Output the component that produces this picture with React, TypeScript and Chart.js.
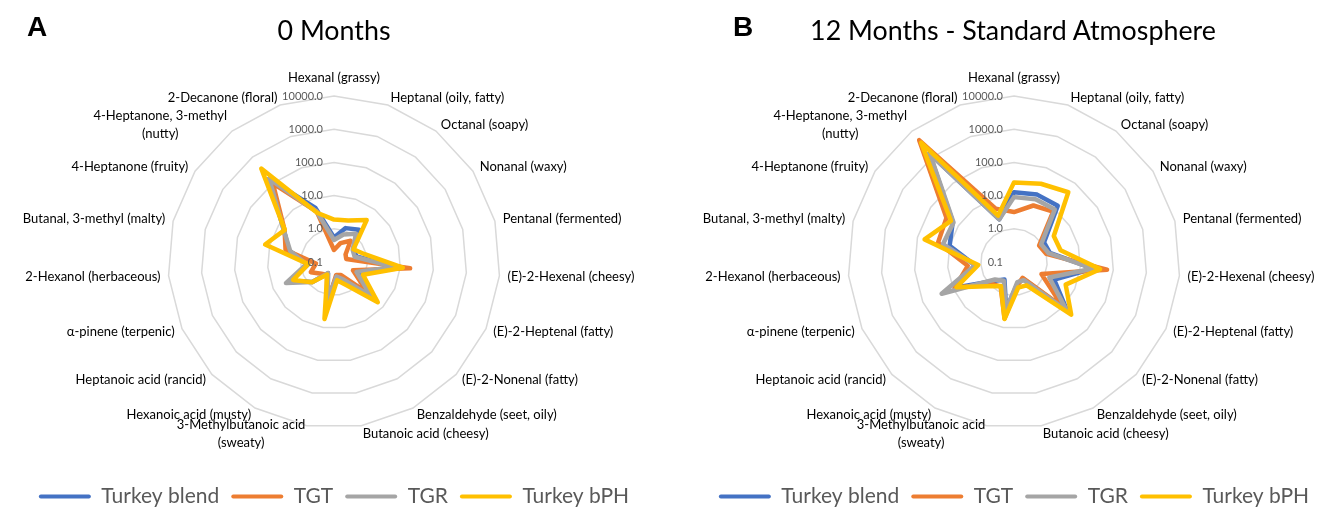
import React, { useEffect, useRef } from 'react';
import { Chart, registerables } from 'chart.js';

Chart.register(...registerables);

// ---------- data ----------
const categories: (string | string[])[] = [
  'Hexanal (grassy)',
  'Heptanal (oily, fatty)',
  'Octanal (soapy)',
  'Nonanal (waxy)',
  'Pentanal (fermented)',
  '(E)-2-Hexenal (cheesy)',
  '(E)-2-Heptenal (fatty)',
  '(E)-2-Nonenal (fatty)',
  'Benzaldehyde (seet, oily)',
  'Butanoic acid (cheesy)',
  ['3-Methylbutanoic acid', '(sweaty)'],
  'Hexanoic acid (musty)',
  'Heptanoic acid (rancid)',
  'α-pinene (terpenic)',
  '2-Hexanol (herbaceous)',
  'Butanal, 3-methyl (malty)',
  '4-Heptanone (fruity)',
  ['4-Heptanone, 3-methyl', '(nutty)'],
  '2-Decanone (floral)',
];

const seriesNames = ['Turkey blend', 'TGT', 'TGR', 'Turkey bPH'];
const seriesColors = ['#4472C4', '#ED7D31', '#A5A5A5', '#FFC000'];

const tickValues = [0.1, 1, 10, 100, 1000, 10000];
const tickLabels = ['0.1', '1.0', '10.0', '100.0', '1000.0', '10000.0'];

// 0 Months
const m0TurkeyBlend = [0.55, 1.2, 1.7, 0.5, 0.5, 7, 0.6, 3.0, 0.4, 0.28, 1.5, 0.24, 0.77, 2.6, 0.6, 2.5, 6.5, 150, 5.3];
const m0TGT = [0.23, 0.4, 0.65, 0.26, 0.24, 20, 0.42, 2.5, 0.28, 0.25, 2.0, 0.28, 0.33, 0.58, 0.35, 3.2, 6.0, 100, 4.0];
const m0TGR = [0.46, 0.75, 1.2, 0.47, 0.44, 7, 0.55, 3.2, 0.4, 0.28, 1.5, 0.24, 0.77, 3.8, 0.68, 2.3, 6.6, 150, 4.0];
const m0TurkeyBPH = [1.9, 2.1, 4.0, 0.5, 0.9, 12, 0.9, 6.2, 0.63, 0.36, 5.5, 0.27, 0.8, 2.2, 0.6, 13.8, 5.9, 370, 3.7];

// 12 Months - Standard Atmosphere
const m12TurkeyBlend = [12.6, 14, 14, 1.2, 1.3, 25, 2.1, 15, 0.38, 0.45, 2.8, 0.4, 0.7, 8, 1.5, 10, 16, 1400, 2.3];
const m12TGT = [3.2, 6.3, 8.3, 0.8, 1.0, 65, 0.8, 10, 0.35, 0.5, 5.3, 0.7, 0.9, 9, 2.5, 23, 27, 4500, 5];
const m12TGR = [9, 10, 10, 0.95, 1.2, 25, 1.45, 14.5, 0.42, 0.41, 3, 0.44, 0.6, 24, 1.5, 16, 15, 1300, 2.3];
const m12TurkeyBPH = [25, 31, 46, 2.7, 2.8, 40, 5, 22, 0.63, 0.6, 5.5, 0.67, 1.2, 7.8, 1.2, 60, 18.6, 3600, 3.0];

// ---------- plugin: tick labels and category labels ----------
const radarText = {
  id: 'radarText',
  afterDatasetsDraw(chart: any) {
    const s = chart.scales.r;
    const ctx = chart.ctx;
    ctx.save();
    ctx.font = '11px Lato';
    ctx.fillStyle = '#595959';
    ctx.textAlign = 'right';
    ctx.textBaseline = 'middle';
    s.ticks.forEach((t: any, i: number) => {
      const d = s.getDistanceFromCenterForValue(t.value);
      ctx.fillText(tickLabels[i], s.xCenter - 11, s.yCenter - d);
    });
    ctx.font = '13px Lato';
    ctx.fillStyle = '#000000';
    ctx.textAlign = 'center';
    const labels = chart.data.labels;
    const n = labels.length;
    const lh = 18;
    labels.forEach((lab: any, i: number) => {
      const p = s.getPointPosition(i, s.drawingArea + 8);
      const lines: string[] = Array.isArray(lab) ? lab : [lab];
      const deg = (360 * i) / n;
      const bw = Math.max(...lines.map((l) => ctx.measureText(l).width));
      const bh = lines.length * lh;
      let left: number;
      if (deg === 0 || deg === 180) left = p.x - bw / 2;
      else if (deg < 180) left = p.x;
      else left = p.x - bw;
      let top = p.y - bh / 2;
      if (deg === 0) top = p.y - bh - 1;
      lines.forEach((l, k) => ctx.fillText(l, left + bw / 2, top + lh * k + lh / 2));
    });
    ctx.restore();
  },
};

const CANVAS_W = 748;
const CANVAS_H = 517;

function RadarPanel(props: { left: number; series: number[][] }) {
  const ref = useRef<HTMLCanvasElement | null>(null);
  useEffect(() => {
    if (!ref.current) return;
    const chart = new Chart(ref.current, {
      type: 'radar',
      data: {
        labels: categories,
        datasets: props.series.map((vals, i) => ({
          label: seriesNames[i],
          data: vals.map((v) => Math.log10(v)),
          borderColor: seriesColors[i],
          backgroundColor: seriesColors[i],
          borderWidth: 4.5,
          borderJoinStyle: 'round' as const,
          fill: false,
          pointRadius: 0,
          pointHoverRadius: 0,
          pointHitRadius: 0,
          order: props.series.length - i,
        })),
      },
      options: {
        animation: false,
        responsive: false,
        events: [],
        layout: { padding: { top: 96, left: 0, right: 0, bottom: 0 } },
        scales: {
          r: {
            min: -1,
            max: 4,
            afterBuildTicks: (scale: any) => {
              scale.ticks = tickValues.map((v) => ({ value: Math.log10(v) }));
            },
            ticks: { display: false },
            pointLabels: { display: false },
            angleLines: { display: false },
            grid: {
              color: (c: any) => (c.index === 0 ? 'rgba(0,0,0,0)' : '#d9d9d9'),
              lineWidth: 1.5,
            },
          },
        },
        plugins: {
          tooltip: { enabled: false },
          legend: {
            position: 'bottom',
            title: { display: true, text: '', font: { size: 10 }, padding: { top: 33.5, bottom: 0 } },
            labels: {
              font: { family: 'Lato', size: 21 },
              color: '#595959',
              boxWidth: 52,
              boxHeight: 4,
              padding: 12,
              sort: (a: any, b: any) => a.datasetIndex - b.datasetIndex,
              generateLabels: (ch: any) =>
                ch.data.datasets.map((ds: any, i: number) => ({
                  text: ds.label,
                  fillStyle: ds.borderColor,
                  strokeStyle: ds.borderColor,
                  lineWidth: 0,
                  hidden: false,
                  datasetIndex: i,
                  borderRadius: 2,
                  fontColor: '#595959',
                })),
            },
          },
        },
      } as any,
      plugins: [radarText],
    });
    return () => chart.destroy();
  }, []);
  return (
    <canvas
      ref={ref}
      width={CANVAS_W}
      height={CANVAS_H}
      style={{ position: 'absolute', left: props.left, top: 0, width: CANVAS_W, height: CANVAS_H }}
    />
  );
}

const letterStyle: React.CSSProperties = {
  position: 'absolute',
  top: 13,
  fontFamily: '"Liberation Sans", Arial, sans-serif',
  fontWeight: 'bold',
  fontSize: 28,
  lineHeight: '28px',
  color: '#000',
};

const titleStyle: React.CSSProperties = {
  position: 'absolute',
  top: 17,
  fontFamily: 'Lato, sans-serif',
  fontSize: 26.8,
  lineHeight: '26px',
  color: '#000',
  whiteSpace: 'nowrap',
  transform: 'translateX(-50%)',
};

export default function App() {
  return (
    <div
      style={{
        position: 'fixed',
        left: 0,
        top: 0,
        width: 1319,
        height: 507,
        overflow: 'hidden',
        background: '#ffffff',
      }}
    >
      <RadarPanel left={-40} series={[m0TurkeyBlend, m0TGT, m0TGR, m0TurkeyBPH]} />
      <RadarPanel left={640} series={[m12TurkeyBlend, m12TGT, m12TGR, m12TurkeyBPH]} />
      <div style={{ ...letterStyle, left: 27 }}>A</div>
      <div style={{ ...letterStyle, left: 733 }}>B</div>
      <div style={{ ...titleStyle, left: 334 }}>0 Months</div>
      <div style={{ ...titleStyle, left: 1013 }}>12 Months - Standard Atmosphere</div>
    </div>
  );
}
